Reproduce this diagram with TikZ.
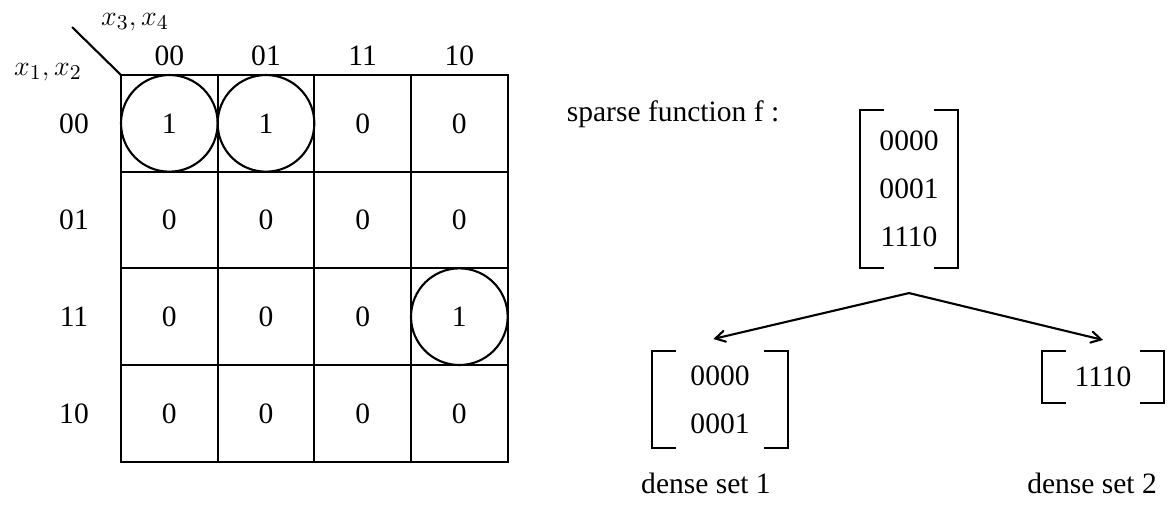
\documentclass[tikz,border=0pt]{standalone}
\usepackage{fontspec}
\setmainfont{Liberation Serif}
\usetikzlibrary{arrows,positioning}

\tikzset{
	cellval/.style={minimum size=1.45cm, inner sep=0pt},
	v0/.style={cellval},
	v1/.style={cellval, circle, draw},
	setbox/.style={align=center, inner sep=0pt, font=\fontsize{12.6}{20.5}\selectfont}
}

% square brackets round a named node
\newcommand{\bracketnode}[1]{%
	\draw ([xshift=0.36cm]#1.north west) -- (#1.north west) -- (#1.south west) -- ([xshift=0.36cm]#1.south west);
	\draw ([xshift=-0.36cm]#1.north east) -- (#1.north east) -- (#1.south east) -- ([xshift=-0.36cm]#1.south east);
}

\begin{document}
\begin{tikzpicture}[line width=0.9pt, font=\fontsize{12.6}{15}\selectfont]
		\useasboundingbox (-1.815,1.125) rectangle (15.72,-6.54);

		% Karnaugh map
		\draw[step=1.45cm] (0,-5.8) grid (5.8,0);
		\draw (0,0) rectangle (5.8,-5.8);
		\coordinate (corner) at (0,0);
		\coordinate (slash) at (-0.735,0.72);
		\draw (corner) -- (slash);
		\node (colvars) at (0.21,0.795) {$x_3, x_4$};
		\node (rowvars) at (-1.095,0.045) {$x_1, x_2$};

		\foreach \lab [count=\i from 0] in {00,01,11,10} {
			\node[anchor=base] (col\i) at (0.725+1.45*\i,0.15) {\lab};
			\node (row\i) at (-0.705,-0.725-1.45*\i) {\lab};
		}

		\foreach \row [count=\r from 0] in {{1,1,0,0},{0,0,0,0},{0,0,0,1},{0,0,0,0}}
			\foreach \v [count=\c from 0] in \row
				\node[v\v] (cell\r\c) at (0.725+1.45*\c,-0.725-1.45*\r) {\v};

		% sparse function and its two dense sets
		\node[anchor=base west] (title) at (6.555,-0.69) {sparse function f :};
		\node[setbox, minimum width=1.44cm, minimum height=2.34cm] (f) at (11.82,-1.71) {0000\\0001\\1110};
		\bracketnode{f}

		\node[setbox, minimum width=2.01cm, minimum height=1.425cm] (d1) at (8.985,-4.8675) {0000\\0001};
		\bracketnode{d1}
		\node[setbox, minimum width=1.8cm, minimum height=0.75cm] (d2) at (14.73,-4.53) {1110};
		\bracketnode{d2}

		\coordinate (split) at ([yshift=-0.375cm]f.south);
		\draw[->,>=angle 60] (split) -- ([xshift=-0.1cm,yshift=0.18cm]d1.north);
		\draw[->,>=angle 60] (split) -- ([yshift=0.165cm]d2.north);

		\node[anchor=base] (d1lab) at (8.775,-6.27) {dense set 1};
		\node[anchor=base] (d2lab) at (14.565,-6.27) {dense set 2};
\end{tikzpicture}
\end{document}
